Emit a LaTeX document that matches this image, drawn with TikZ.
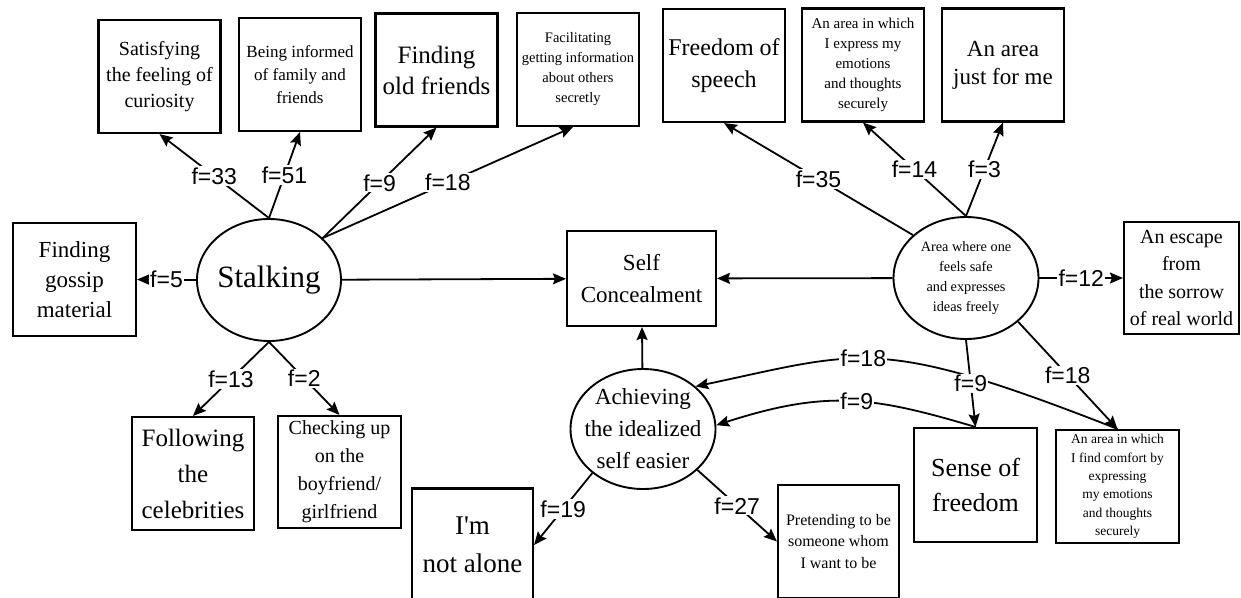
\documentclass[tikz,border=0pt]{standalone}
\usepackage{fontspec}
\setmainfont{Liberation Serif}
\newfontfamily\rawserif{Liberation Serif}
\newfontfamily\labfont{Liberation Sans}
\usetikzlibrary{shapes.geometric, arrows.meta}

\begin{document}
\begin{tikzpicture}[x=1pt, y=-1pt,
  box/.style={draw, rectangle, line width=2.1pt, inner sep=0pt, align=center,
              minimum width=122pt, minimum height=113pt},
  ell/.style={draw, ellipse, line width=1.9pt, inner sep=0pt,
              minimum width=145pt, minimum height=122pt},
  txt/.style={align=center, inner sep=0pt},
  lab/.style={fill=white, inner sep=1.2pt, font=\labfont\fontsize{23}{23}\selectfont},
  arr/.style={line width=1.8pt, -{Stealth[length=13pt,width=11pt,inset=2pt]}},
  ln/.style={line width=1.8pt}
]
\useasboundingbox (0,0) rectangle (1241,597);
\fill[white] (0,0) rectangle (1241,597);
\clip (0,0) rectangle (1241,597);

% ---- top row of boxes
\node[box, font={\fontsize{20}{26}\selectfont}] (sat) at (159.5,76.5) {Satisfying\\the feeling of\\curiosity};
\node[box, font={\fontsize{17}{23}\selectfont}] (inform) at (300,74.5) {Being informed\\of family and\\friends};
\node[box, font={\fontsize{25}{31}\selectfont}] (oldfr) at (436.5,70) {Finding\\old friends};
\node[box, font={\fontsize{14.5}{20}\selectfont}] (facil) at (578,69.5) {Facilitating\\getting information\\about others\\secretly};
\node[box, font={\fontsize{24}{32}\selectfont}] (speech) at (724,65.5) {Freedom of\\speech};
\node[box, font={\fontsize{15}{20}\selectfont}] (express) at (863,65) {An area in which\\I express my\\emotions\\and thoughts\\securely};
\node[box, font={\fontsize{23}{28}\selectfont}] (justme) at (1003,65) {An area\\just for me};

% ---- middle row
\node[box, minimum width=123pt, font={\fontsize{23}{30}\selectfont}] (gossip) at (74.5,279.5) {Finding\\gossip\\material};
\node[box, minimum width=149pt, minimum height=95pt, font={\fontsize{23}{32}\selectfont}] (selfc) at (641.5,278.5) {Self\\Concealment};
\node[box, minimum width=115pt, minimum height=112pt, font={\fontsize{20}{27.5}\selectfont}] (escape) at (1181.5,278) {An escape\\from\\the sorrow\\of real world};

% ---- ellipses
\node[ell, minimum width=144pt, label={[txt, font={\fontsize{31}{31}\selectfont}]center:Stalking}] (stalk) at (269,280) {};
\node[ell, label={[txt, font={\fontsize{14.3}{20}\selectfont}]center:Area where one\\feels safe\\and expresses\\ideas freely}] (area) at (966,278) {};
\node[ell, minimum height=120pt, label={[txt, font={\fontsize{23}{32}\selectfont}]center:Achieving\\the idealized\\self easier}] (achieve) at (643,429) {};

% ---- bottom row
\node[box, font={\fontsize{25}{36}\selectfont}] (follow) at (193,473.5) {Following\\the\\celebrities};
\node[box, minimum width=123pt, minimum height=112pt, font={\fontsize{20}{28}\selectfont}] (check) at (339.5,472) {Checking up\\on the\\boyfriend/\\girlfriend};
\node[box, minimum width=121pt, font={\rawserif\fontsize{27}{38}\selectfont}] (notalone) at (472.5,545) {I'm\\not alone};
\node[box, minimum width=121pt, font={\fontsize{16}{21.5}\selectfont}] (pretend) at (838.5,541.5) {Pretending to be\\someone whom\\I want to be};
\node[box, minimum width=123pt, minimum height=114pt, font={\fontsize{26}{35}\selectfont}] (sense) at (975.5,485) {Sense of\\freedom};
\node[box, minimum width=123pt, font={\fontsize{13.5}{18.3}\selectfont}] (comfort) at (1117.5,486.5) {An area in which\\I find comfort by\\expressing\\my emotions\\and thoughts\\securely};

% ---- arrows into Self Concealment
\draw[arr] (stalk) -- (selfc);
\draw[arr] (area) -- (selfc);
\draw[arr] (achieve) -- (selfc);

% ---- Stalking outcomes
\draw[arr] (stalk.north) -- node[lab]{f=33} (sat.south);
\draw[arr] (stalk.north) -- node[lab]{f=51} (inform.south);
\draw[arr] (stalk.38) -- node[lab]{f=9} (oldfr.south);
\draw[arr] (stalk.38) -- node[lab]{f=18} ([xshift=-5pt]facil.south);
\draw[arr] (stalk.west) -- node[lab]{f=5} (gossip.east);
\draw[arr] (stalk.south) -- node[lab]{f=13} (follow.north);
\draw[arr] (stalk.south) -- node[lab]{f=2} (check.north);

% ---- curved links back to Achieving
\draw[arr] (comfort.north) .. controls (878,335) and (863,351) .. node[lab, pos=0.55]{f=18} (achieve.39);
\draw[arr] (sense.north) .. controls (874,397) and (828.5,389) .. node[lab, pos=0.47]{f=9} (achieve.3);

% ---- Area outcomes
\draw[arr] (area.141) -- node[lab]{f=35} (speech.south);
\draw[arr] (area.north) -- node[lab]{f=14} (express.south);
\draw[arr] (area.north) -- node[lab]{f=3} (justme.south);
\draw[arr] (area.east) -- node[lab]{f=12} (escape.west);
\draw[arr] (area.south) -- node[lab]{f=9} (sense.north);
\draw[arr] (area.-40) -- node[lab]{f=18} (comfort.north);

% ---- Achieving outcomes
\draw[arr] (achieve.221) -- node[lab]{f=19} (notalone.east);
\draw[arr] (achieve.323) -- node[lab]{f=27} (pretend.west);
\end{tikzpicture}
\end{document}
